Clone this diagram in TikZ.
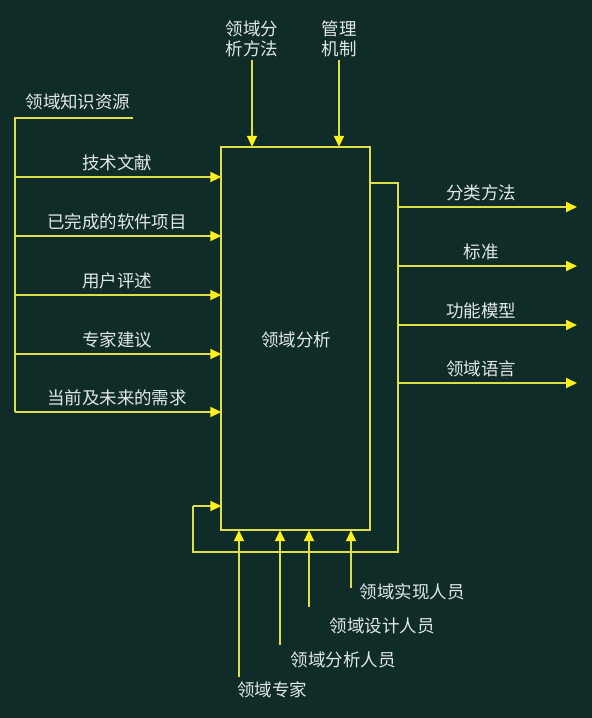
\documentclass[tikz,border=0pt]{standalone}
\usepackage{fontspec}
\newfontfamily\cjk{Noto Sans CJK SC}
\usetikzlibrary{arrows.meta}
\definecolor{bg}{RGB}{16,44,40}
\definecolor{ln}{RGB}{222,222,70}
\definecolor{tip}{RGB}{250,240,30}
\definecolor{tx}{RGB}{225,232,232}
\begin{document}
\begin{tikzpicture}[x=1pt,y=-1pt,
  wire/.style={draw=ln,line width=1.8pt},
  arr/.style={wire,-{Triangle[length=11pt,width=10pt,fill=tip,color=tip]}},
  lbl/.style={text=tx,font=\cjk\fontsize{17.5}{20}\selectfont,inner sep=0pt,align=center},
  mainbox/.style={rectangle,minimum width=148pt,minimum height=383pt,inner sep=0pt}]
\fill[bg] (0,0) rectangle (592,718);
\useasboundingbox (0,0) rectangle (592,718);
% main box
\node[mainbox] (box) at (295.5,338.5) {};
\draw[wire] (box.north west) rectangle (box.south east);
\node[lbl] (boxlbl) at (296,340) {领域分析};
% top inputs
\node[lbl] (t1) at (252,39) {领域分\\析方法};
\node[lbl] (t2) at (339,39) {管理\\机制};
\draw[arr] (t1.south |- 0,60) -- (t1.south |- box.north);
\draw[arr] (t2.south |- 0,60) -- (t2.south |- box.north);
% left inputs
\node[lbl] (l0) at (78,102) {领域知识资源};
\coordinate (ltop) at (15,118);
\coordinate (ltopend) at (133,118);
\coordinate (lbot) at (15,412);
\draw[wire] (ltopend) -- (ltop) -- (lbot);
\foreach \y/\t [count=\i] in {177/技术文献,236/已完成的软件项目,295/用户评述,354/专家建议,412/当前及未来的需求}{
  \coordinate (ls\i) at (15,\y);
  \node[lbl] (ll\i) at (117,\y-14) {\t};
  \draw[arr] (ls\i) -- (ls\i -| box.west);
}
% feedback loop and outputs
\coordinate (fb1) at (box.east |- 0,183);
\coordinate (fb2) at (398,183);
\coordinate (fb3) at (398,552);
\coordinate (fb4) at (193,552);
\coordinate (fb5) at (193,506);
\draw[wire] (fb1) -- (fb2) -- (fb3) -- (fb4) -- (fb5);
\draw[arr] (fb5) -- (fb5 -| box.west);
\foreach \y/\t [count=\i] in {207/分类方法,266/标准,325/功能模型,383/领域语言}{
  \coordinate (os\i) at (398,\y);
  \coordinate (oe\i) at (577,\y);
  \node[lbl] (ol\i) at (481,\y-14) {\t};
  \draw[arr] (os\i) -- (oe\i);
}
% bottom inputs
\foreach \x/\ys/\lx/\ly/\t [count=\i] in {239/677/272/690/领域专家,280/645/343/660/领域分析人员,309/607/382/626/领域设计人员,351/588/412/592/领域实现人员}{
  \coordinate (bs\i) at (\x,\ys);
  \node[lbl] (bl\i) at (\lx,\ly) {\t};
  \draw[arr] (bs\i) -- (bs\i |- box.south);
}
\end{tikzpicture}
\end{document}
